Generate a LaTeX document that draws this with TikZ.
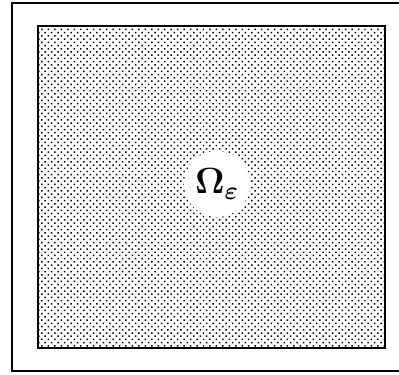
\documentclass[tikz,border=0pt]{standalone}
\usepackage{tikz}
\usepackage{bm}
\usetikzlibrary{positioning,patterns.meta}

\begin{document}
\begin{tikzpicture}[x=0.02cm,y=-0.02cm,
  frame/.style={draw=black, line width=0.6pt},
  dotbox/.style={draw=black, line width=1.3pt, pattern={Dots[distance=2.6pt, angle=45, radius=0.6pt]},
                 inner sep=0pt, anchor=north west},
  hole/.style={circle, fill=white, inner sep=0pt, minimum size=1.32cm, font=\huge}]
\useasboundingbox (0,0) rectangle (399,375);
% outer frame
\draw[frame] (12,3) rectangle (399.5,371);
% the dotted domain
\node[dotbox, minimum width=6.94cm, minimum height=6.44cm] (omega) at (37,25) {};
\node[hole] (label) at (217,184) {\raisebox{1pt}{$\bm{\Omega_{\varepsilon}}$}};
\end{tikzpicture}
\end{document}
